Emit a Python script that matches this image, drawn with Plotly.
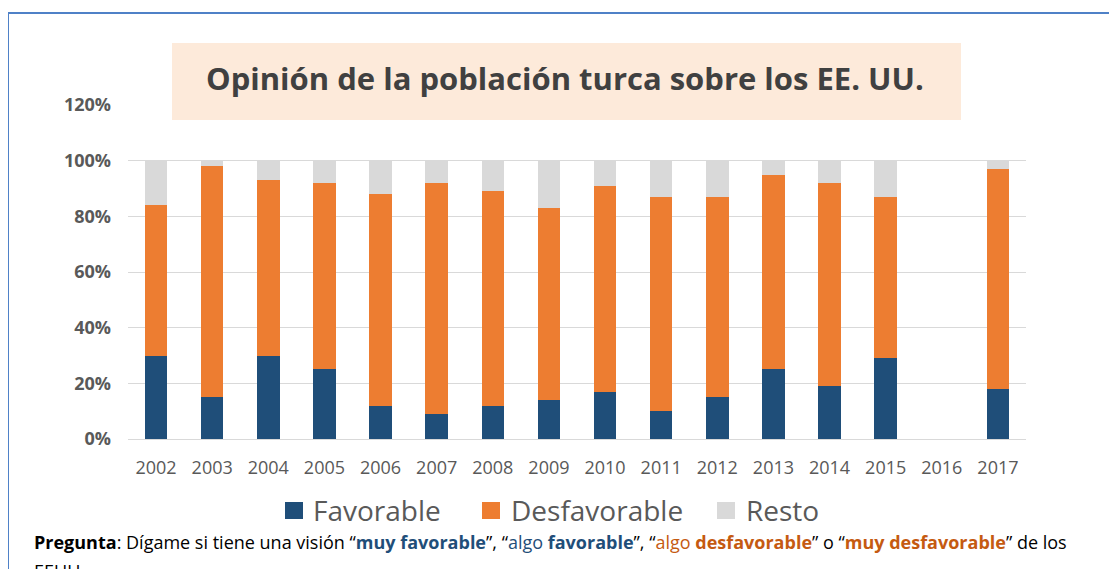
import plotly.graph_objects as go

years = ["2002", "2003", "2004", "2005", "2006", "2007", "2008", "2009",
         "2010", "2011", "2012", "2013", "2014", "2015", "2016", "2017"]
favorable = [30, 15, 30, 25, 12, 9, 12, 14, 17, 10, 15, 25, 19, 29, None, 18]
desfavorable = [54, 83, 63, 67, 76, 83, 77, 69, 74, 77, 72, 70, 73, 58, None, 79]
resto = [16, 2, 7, 8, 12, 8, 11, 17, 9, 13, 13, 5, 8, 13, None, 3]

series_names = ["Favorable", "Desfavorable", "Resto"]
series_colors = ["#1F4E79", "#ED7D31", "#D9D9D9"]
series_values = [favorable, desfavorable, resto]

title_text = "Opinión de la población turca sobre los EE. UU."
FONT = "Open Sans"

fig = go.Figure()
for name, color, vals in zip(series_names, series_colors, series_values):
    fig.add_trace(go.Bar(x=years, y=vals, name=name, marker_color=color,
                         marker_line_width=0, showlegend=False))

# The page body has an 8px margin: figure pixel = reference pixel - 8
OFF = 8
FW, FH = 1117 - OFF, 569 - OFF
# plot area in reference pixels: x 128..1026, y 105..439
L, R, T, B = 128, 1026, 105, 439
W, H = R - L, B - T
def px(x):
    return (x - L) / W
def py(y):
    return (B - y) / H

shapes = []
annotations = []

# outer blue frame
shapes.append(dict(type="rect", xref="paper", yref="paper",
                   x0=px(8), x1=px(1140), y0=py(600), y1=py(13),
                   line=dict(color="#4F81C7", width=2), fillcolor="rgba(0,0,0,0)",
                   layer="above"))
# title box
shapes.append(dict(type="rect", xref="paper", yref="paper",
                   x0=px(172), x1=px(961), y0=py(120), y1=py(43),
                   line=dict(width=0), fillcolor="#FDEADA", layer="above"))
annotations.append(dict(text="<b>" + title_text + "</b>", xref="paper", yref="paper",
                        x=px(565), y=py(78), xanchor="center", yanchor="middle",
                        showarrow=False, font=dict(family=FONT, size=31, color="#404040")))

# manual legend
leg_sq = [285, 482, 717]
leg_txt = [311, 509, 744]
for name, color, sx, tx in zip(series_names, series_colors, leg_sq, leg_txt):
    shapes.append(dict(type="rect", xref="paper", yref="paper",
                       x0=px(sx), x1=px(sx + 18), y0=py(519), y1=py(502),
                       line=dict(width=0), fillcolor=color, layer="above"))
    annotations.append(dict(text=name, xref="paper", yref="paper",
                            x=px(tx), y=py(510), xanchor="left", yanchor="middle",
                            showarrow=False,
                            font=dict(family=FONT, size=28, color="#595959")))

blue = "#1F4E79"
orange = "#C55A11"
question = ("<b>Pregunta</b>: Dígame si tiene una visión “"
            f"<span style='color:{blue}'><b>muy favorable</b></span>”, “"
            f"<span style='color:{blue}'>algo <b>favorable</b></span>”, “"
            f"<span style='color:{orange}'>algo <b>desfavorable</b></span>” o “"
            f"<span style='color:{orange}'><b>muy desfavorable</b></span>” de los")
annotations.append(dict(text=question, xref="paper", yref="paper",
                        x=px(32), y=py(542), xanchor="left", yanchor="middle",
                        showarrow=False, font=dict(family=FONT, size=18, color="#000000")))
annotations.append(dict(text="EEUU.", xref="paper", yref="paper",
                        x=px(32), y=py(571), xanchor="left", yanchor="middle",
                        showarrow=False, font=dict(family=FONT, size=18, color="#000000")))

fig.update_layout(
    width=FW, height=FH,
    margin=dict(l=L - OFF, r=FW - (R - OFF), t=T - OFF, b=FH - (B - OFF)),
    barmode="stack", bargap=0.6,
    plot_bgcolor="white", paper_bgcolor="white",
    shapes=shapes, annotations=annotations,
    showlegend=False,
)
fig.update_xaxes(type="category", categoryorder="array", categoryarray=years,
                 showgrid=False, showline=False, ticks="",
                 ticklabelstandoff=16,
                 tickfont=dict(family=FONT, size=18, color="#595959"))
fig.update_yaxes(range=[0, 120], dtick=20, ticksuffix="%",
                 showgrid=True, gridcolor="#D9D9D9", gridwidth=1,
                 zeroline=True, zerolinecolor="#D9D9D9", zerolinewidth=1,
                 ticklabelstandoff=16,
                 tickfont=dict(family=FONT, size=18, color="#595959", weight="bold"))

fig.write_html("out.html")
